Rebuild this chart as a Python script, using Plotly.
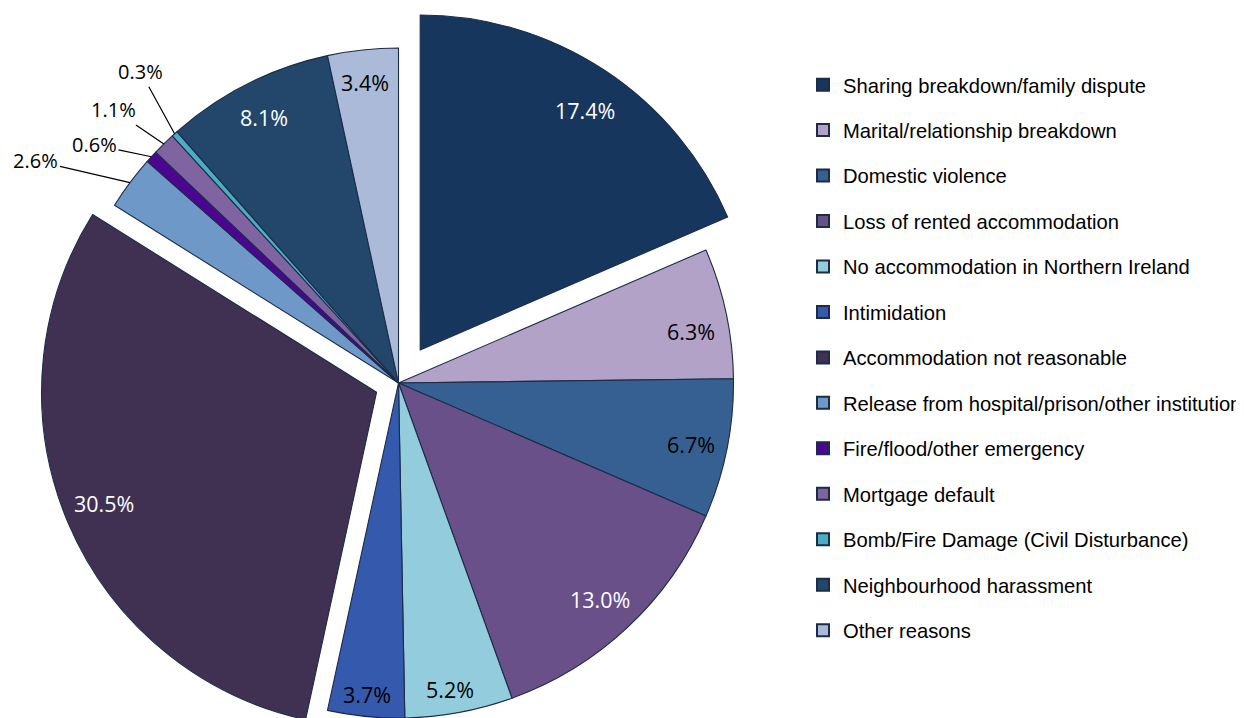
import math
import plotly.graph_objects as go

# ---------------- data ----------------
categories = [
    "Sharing breakdown/family dispute",
    "Marital/relationship breakdown",
    "Domestic violence",
    "Loss of rented accommodation",
    "No accommodation in Northern Ireland",
    "Intimidation",
    "Accommodation not reasonable",
    "Release from hospital/prison/other institution",
    "Fire/flood/other emergency",
    "Mortgage default",
    "Bomb/Fire Damage (Civil Disturbance)",
    "Neighbourhood harassment",
    "Other reasons",
]
# percentages printed on the chart
printed_pct = [17.4, 6.3, 6.7, 13.0, 5.2, 3.7, 30.5, 2.6, 0.6, 1.1, 0.3, 8.1, 3.4]
# slice sizes as drawn (the first slice is drawn as the remainder of 100%)
slice_values = [18.5, 6.3, 6.7, 13.0, 5.2, 3.7, 30.5, 2.6, 0.6, 1.1, 0.3, 8.1, 3.4]

# ---------------- style ----------------
colors = ["#17365d", "#b3a2c7", "#376092", "#6a5088", "#93cddd", "#3459ad",
          "#403152", "#6e98c8", "#4b0591", "#8064a2", "#4bacc6", "#23476b", "#aabad8"]
pulls = [0.118, 0, 0, 0, 0, 0, 0.071, 0, 0, 0, 0, 0, 0]
white_text = [True, False, False, True, False, False, True, False, False, False, False, True, False]
outside = [False] * 7 + [True, True, True, True] + [False, False]
outside_offsets = {7: (-94, -22), 8: (-57, -12), 9: (-50, -34), 10: (-34, -62)}
label_frac = [0.866, 0.888, 0.893, 0.884, 0.929, 0.934, 0.878, 1, 1, 1, 1, 0.889, 0.904]
label_nudge_deg = [1.2, 2.1, 0.5, 0.3, 0.9, 0.2, 0.6, 0, 0, 0, 0, 0, -0.3]
edge_color = "#1b2c47"

PAGE_OFFSET = 8  # the page body margin shifts the figure by this many pixels
W, H = 1244, 740
CX, CY, R = 398.5 - PAGE_OFFSET, 383.0 - PAGE_OFFSET, 335.0

total = sum(slice_values)
mids = []
acc = 0.0
for v in slice_values:
    mids.append((acc + v / 2.0) / total * 360.0)
    acc += v


def pie_center(i):
    a = math.radians(mids[i])
    p = pulls[i] * R
    return CX + p * math.sin(a), CY - p * math.cos(a)


def domain_for(cx, cy):
    half_w = R + 20
    return dict(x=[(cx - half_w) / W, (cx + half_w) / W],
                y=[(H - (cy + R)) / H, (H - (cy - R)) / H])


fig = go.Figure()

# main pie: unpulled slices; one pie per pulled slice (drawn at its shifted centre)
groups = [[i for i, p in enumerate(pulls) if p == 0]] + [[i] for i, p in enumerate(pulls) if p > 0]
for gi, members in enumerate(groups):
    if gi == 0:
        cx, cy = CX, CY
    else:
        cx, cy = pie_center(members[0])
    cols = [colors[i] if i in members else "rgba(0,0,0,0)" for i in range(len(categories))]
    lw = [1.1 if i in members else 0 for i in range(len(categories))]
    fig.add_trace(go.Pie(
        labels=categories, values=slice_values, sort=False, direction="clockwise",
        rotation=0, textinfo="none", hoverinfo="label+percent",
        marker=dict(colors=cols, line=dict(color=edge_color, width=lw)),
        domain=domain_for(cx, cy), showlegend=False,
    ))

# legend entries
for i, cat in enumerate(categories):
    fig.add_trace(go.Scatter(
        x=[None], y=[None], mode="markers", name=cat, legendgroup=cat,
        marker=dict(symbol="square", size=11, color=colors[i],
                    line=dict(color=edge_color, width=1.2)),
        hoverinfo="skip",
    ))

# percentage labels
annotations = []
for i, pct in enumerate(printed_pct):
    cx, cy = pie_center(i)
    txt = f"{pct:.1f}%"
    if outside[i]:
        a = math.radians(mids[i])
        tx = cx + R * math.sin(a)
        ty = cy - R * math.cos(a)
        ax, ay = outside_offsets[i]
        annotations.append(dict(
            x=tx / W, y=1 - ty / H, xref="paper", yref="paper", text=txt,
            showarrow=True, arrowhead=0, arrowwidth=1.2, arrowcolor="#000000",
            ax=ax, ay=ay, font=dict(family="Open Sans", size=20, color="#000000"),
        ))
    else:
        a = math.radians(mids[i] + label_nudge_deg[i])
        lx = cx + label_frac[i] * R * math.sin(a)
        ly = cy - label_frac[i] * R * math.cos(a)
        annotations.append(dict(
            x=lx / W, y=1 - ly / H, xref="paper", yref="paper", text=txt,
            showarrow=False, xanchor="center", yanchor="middle",
            font=dict(family="Open Sans", size=21.5,
                      color="#ffffff" if white_text[i] else "#000000"),
        ))

fig.update_layout(
    width=W, height=H,
    margin=dict(l=0, r=0, t=0, b=0),
    paper_bgcolor="white", plot_bgcolor="white",
    xaxis=dict(visible=False), yaxis=dict(visible=False),
    annotations=annotations,
    showlegend=True,
    legend=dict(x=795 / W, y=1 - 57 / H, xanchor="left", yanchor="top",
                font=dict(family="Liberation Sans", size=20.2, color="#000000"),
                tracegroupgap=16.2, bgcolor="rgba(0,0,0,0)", itemsizing="constant"),
)

fig.write_html("out.html")
